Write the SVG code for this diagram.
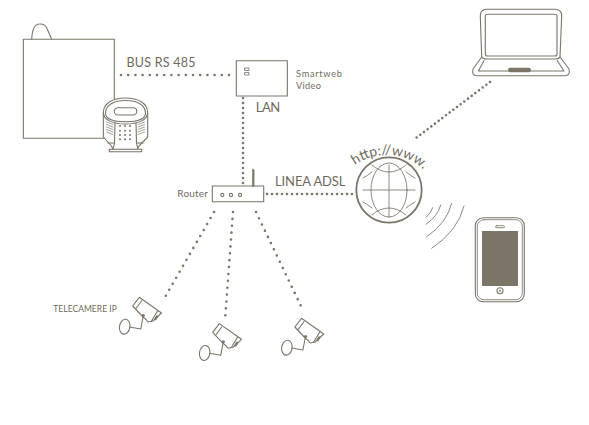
<svg xmlns="http://www.w3.org/2000/svg" xmlns:xlink="http://www.w3.org/1999/xlink" width="589" height="425" viewBox="0 0 589 425">
<style>
.l{fill:none;stroke:#7b7568;stroke-width:1.1;stroke-linejoin:round;stroke-linecap:round}
.t{fill:none;stroke:#7b7568;stroke-width:.85;stroke-linejoin:round;stroke-linecap:round}
.w{fill:#fff;stroke:#7b7568;stroke-width:1.1;stroke-linejoin:round}
.f{fill:#7b7568}
.d{fill:none;stroke:#7b7568;stroke-width:2.6;stroke-linecap:round}
text{font-family:Lato,"Noto Sans",sans-serif;fill:#6f6a5e}
</style>
<defs>
<g id="cam">
<path class="w" d="M132.7 306 L139.3 297.3 L161.500 313 L153 321 L148 322 Q146 319 143 317 Z"/>
<path class="l" d="M136 308.500 L141.700 300.700 M151.500 321 L157.500 311"/>
<path class="l" d="M143.300 315.500 L140.700 329 L129.500 327"/>
<ellipse class="l" cx="124.700" cy="326.700" rx="5.200" ry="7.500" transform="rotate(10 124.700 326.700)"/>
<circle class="f" cx="143.300" cy="315.500" r="1.600"/>
<path class="l" d="M157 316.500 L155.500 319" style="stroke-width:2.400"/>
</g>
</defs>
<rect width="589" height="425" fill="#fff"/>
<g id="connectors">
<path class="d" d="M121 75 H235" stroke-dasharray="0 7.2"/>
<path class="d" d="M243 98 V184" stroke-dasharray="0 5"/>
<path class="d" d="M267 194 H353" stroke-dasharray="0 5"/>
<path class="d" d="M490 82 L416 138" stroke-dasharray="0 4.6"/>
<path class="d" d="M214 212 L163 300.7" stroke-dasharray="0 6.9"/>
<path class="d" d="M233 212 L225 320" stroke-dasharray="0 6.9"/>
<path class="d" d="M256 212 L301.7 307.5" stroke-dasharray="0 6.9"/>
</g>
<g id="panel">
<rect class="l" x="23.300" y="39.300" width="91" height="99"/>
<path class="l" d="M31.700 39 Q32.500 24 39.500 24 Q45 23.500 47 28.500 L51.500 39"/>
</g>
<g id="keypad">
<path class="w" d="M103.300 113 C103.300 103 113 98 125.500 98 C138 98 147.700 103 147.700 113 L147.700 137 L139 146 L137 149.500 L113 149.500 L111.500 146 L103.300 137 Z"/>
<path class="l" d="M105.500 113 C105.500 105 114 100.500 125.500 100.500 C137 100.500 145.500 105 145.500 113 C145.500 119 137 121.700 125.500 121.700 C114 121.700 105.500 119 105.500 113 Z"/>
<path class="l" d="M103.500 113 C103.500 120 113 124 125.500 124 C138 124 147.500 120 147.500 113"/>
<rect class="l" x="114.300" y="107.700" width="22.400" height="7.300" rx="3.600"/>
<path class="l" d="M115 122.500 L114.500 143 L113 149.500 M136 122.500 L136.500 143 L138 149.500 M114.500 143 H108 M136.500 143 H143"/>
<path class="l" d="M106.500 122 L113 124.500 M106.500 124.500 L113 127 M106.500 127 L113 129.500 M106.500 129.500 L113 132 M106.500 132 L113 134.500 M144.500 122 L138 124.500 M144.500 124.500 L138 127 M144.500 127 L138 129.500 M144.500 129.500 L138 132 M144.500 132 L138 134.500" style="stroke-width:.7"/>
<g class="f">
<circle cx="120" cy="126" r="1"/><circle cx="125" cy="126" r="1"/><circle cx="130" cy="126" r="1"/>
<circle cx="120" cy="130.700" r="1"/><circle cx="125" cy="130.700" r="1"/><circle cx="130" cy="130.700" r="1"/>
<circle cx="120" cy="135" r="1"/><circle cx="125" cy="135" r="1"/><circle cx="130" cy="135" r="1"/>
<circle cx="120" cy="139.300" r="1"/><circle cx="125" cy="139.300" r="1"/><circle cx="130" cy="139.300" r="1"/>
</g>
<rect class="w" x="109.300" y="149.300" width="32.400" height="2.400"/>
</g>
<g id="smartweb">
<rect class="l" x="236.300" y="60.700" width="51" height="35.300"/>
<rect class="t" x="245" y="68" width="4" height="2.500"/>
<rect class="t" x="245" y="72.500" width="4" height="2.500"/>
<text x="296" y="77" font-size="9.200" textLength="46">Smartweb</text>
<text x="296" y="88.500" font-size="9.200" textLength="25">Video</text>
</g>
<g id="router">
<rect class="l" x="212.300" y="186" width="51.400" height="15.700"/>
<path class="l" d="M253.300 170 V186" style="stroke-width:2.200"/>
<circle class="l" cx="222.300" cy="195" r="1.600"/>
<circle class="l" cx="231" cy="195" r="1.600"/>
<circle class="l" cx="240" cy="195" r="1.600"/>
<text x="177.300" y="196.700" font-size="10" textLength="30.500">Router</text>
</g>
<g id="labels">
<text x="126.500" y="67.300" font-size="12.500" textLength="69">BUS RS 485</text>
<text x="255.700" y="112.300" font-size="13" textLength="24.500">LAN</text>
<text x="275" y="186" font-size="13" textLength="70.500">LINEA ADSL</text>
<text x="53.300" y="312" font-size="8.500" textLength="63.500">TELECAMERE IP</text>
</g>
<g id="globe">
<circle cx="389" cy="190" r="32.700" fill="none" stroke="#7b7568" stroke-width="1.800"/>
<ellipse class="t" cx="389" cy="190" rx="18" ry="27"/>
<path class="t" d="M389 165 V217 M363 190 H415"/>
<path class="t" d="M372 165 Q380 172 389 172 Q398 172 406 165 M372 215 Q380 208 389 208 Q398 208 406 215"/>
<path class="t" d="M363 178 Q367 176 372 172 M415 178 Q411 176 406 172 M363 202 Q367 204 372 208 M415 202 Q411 204 406 208"/>
<path id="arc" d="M355 165 A54 54 0 0 1 426 172" fill="none"/>
<text font-size="14"><textPath xlink:href="#arc" href="#arc">http://www.</textPath></text>
</g>
<g id="wifi">
<path class="t" d="M464 206 Q458 231 431.700 248.300"/>
<path class="t" d="M451.700 203.300 Q447 223 426.700 236.700"/>
<path class="t" d="M440.700 205 Q438 216 426 224.300"/>
<path class="t" d="M432.700 207.700 Q431 213 426 217.300"/>
</g>
<g id="smartphone">
<rect class="l" x="475.300" y="217.700" width="49" height="84" rx="8"/>
<rect class="t" x="477.300" y="219.700" width="45" height="80" rx="6.500"/>
<rect class="f" x="482" y="231" width="36" height="55"/>
<rect class="t" x="495.500" y="225.700" width="9" height="2" rx="1"/>
<circle class="l" cx="500" cy="290.700" r="3"/>
<circle class="f" cx="500" cy="290.700" r="1"/>
</g>
<g id="laptop">
<path class="l" d="M481.700 57 L480.300 16 Q480.300 9.300 487 9.300 H555 Q561.700 9.300 561.700 16 L560 57 Q559 59 555 59 H487 Q482.500 59 481.700 57 Z"/>
<rect class="l" x="485.300" y="14.300" width="71.700" height="41.700" rx="2"/>
<path class="l" d="M481.700 57 L473 69 Q471.500 75.700 477 75.700 H565 Q570.500 75.700 569 69 L560 57"/>
<path class="l" d="M484 60.700 L478.300 71 H564 L557.300 60.700"/>
<rect class="f" x="508" y="67.700" width="23" height="4.600" rx="2.300"/>
</g>
<g id="camera1"><use href="#cam" xlink:href="#cam"/></g>
<g id="camera2"><use href="#cam" xlink:href="#cam" x="80" y="26.300"/></g>
<g id="camera3"><use href="#cam" xlink:href="#cam" x="162.200" y="21"/></g>
</svg>
